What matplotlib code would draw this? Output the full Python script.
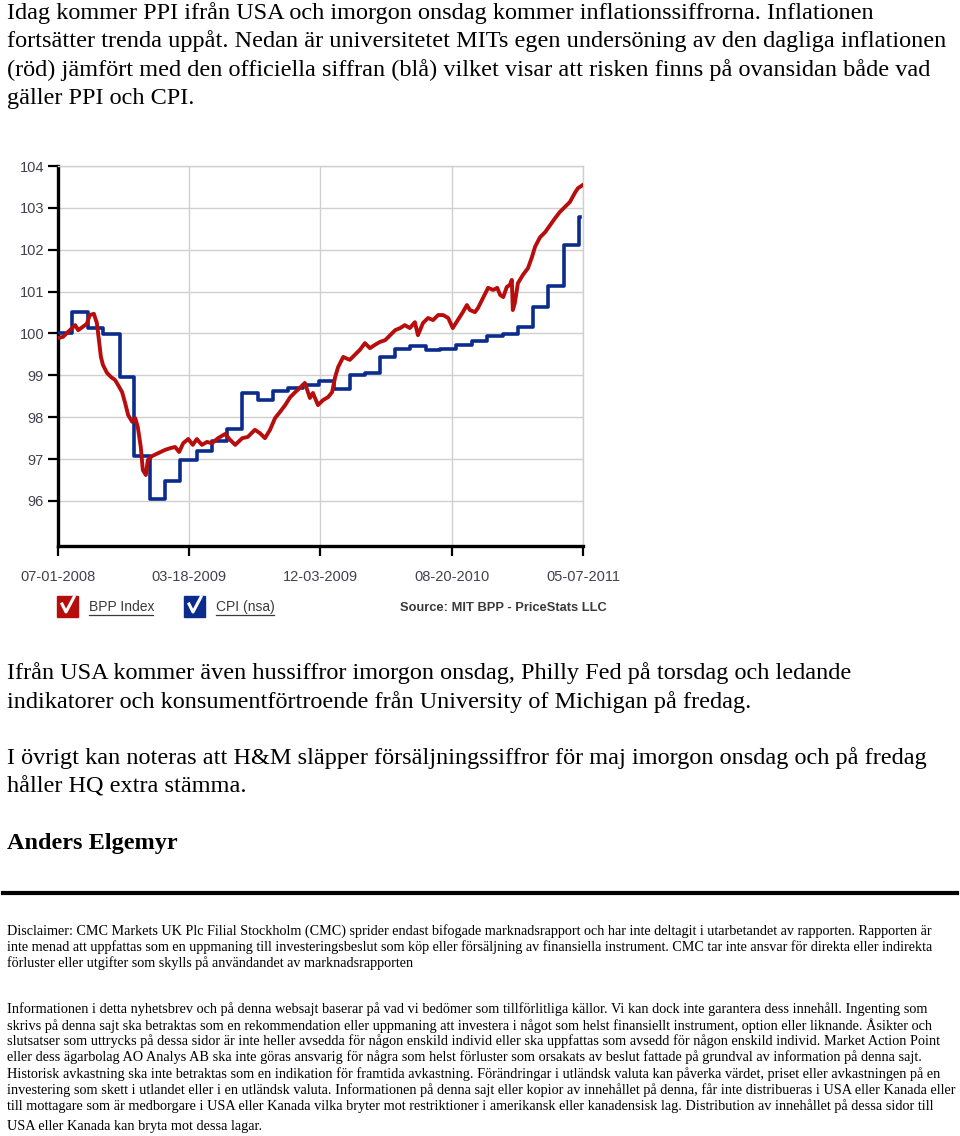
import numpy as np
import matplotlib.pyplot as plt
from matplotlib.patches import Rectangle
from matplotlib.lines import Line2D

# Data
start = np.datetime64('2008-07-01')

# CPI (nsa) - monthly step levels, days after 07-01-2008
cpi_days = [0, 28, 59, 89, 123, 151, 182, 212, 242, 275, 305, 335, 365, 396,
            426, 456, 485, 517, 547, 578, 608, 638, 668, 697, 729, 757, 788,
            820, 850, 882, 911, 941, 971, 1002, 1032, 1034]
cpi_vals = [100.00, 100.51, 100.13, 99.98, 98.96, 97.07, 96.05, 96.48, 96.98,
            97.20, 97.43, 97.72, 98.58, 98.41, 98.63, 98.69, 98.77, 98.87,
            98.67, 99.01, 99.06, 99.44, 99.63, 99.70, 99.61, 99.62, 99.73,
            99.82, 99.94, 99.99, 100.16, 100.63, 101.13, 102.11, 102.78, 102.78]

# BPP Index - daily online price index, sampled
bpp_days = [0, 10, 20, 28, 34, 40, 48, 57, 63, 71, 77, 81, 85, 89, 97, 105,
            113, 119, 127, 133, 139, 147, 153, 158, 164, 168, 174, 178, 186,
            198, 212, 222, 232, 240, 248, 258, 267, 275, 285, 295, 305, 317,
            331, 341, 351, 365, 376, 390, 400, 410, 420, 430, 440, 450, 460,
            470, 479, 489, 499, 505, 515, 525, 535, 543, 549, 555, 565, 578,
            588, 598, 608, 618, 628, 638, 648, 658, 668, 678, 687, 697, 707,
            713, 723, 733, 743, 753, 763, 773, 782, 792, 802, 810, 816, 826,
            832, 842, 852, 862, 870, 876, 882, 889, 895, 899, 901, 905, 911,
            921, 931, 939, 945, 955, 965, 975, 985, 994, 1004, 1014, 1024,
            1030, 1040]
bpp_vals = [99.89, 99.92, 100.04, 100.13, 100.20, 100.08, 100.15, 100.23,
            100.44, 100.47, 100.25, 99.85, 99.44, 99.25, 99.06, 98.96, 98.89,
            98.77, 98.60, 98.34, 98.05, 97.89, 97.98, 97.77, 97.29, 96.74,
            96.62, 96.98, 97.07, 97.14, 97.22, 97.26, 97.29, 97.17, 97.38,
            97.48, 97.34, 97.48, 97.34, 97.41, 97.38, 97.50, 97.60, 97.46,
            97.34, 97.50, 97.53, 97.70, 97.62, 97.50, 97.70, 97.98, 98.13,
            98.29, 98.48, 98.60, 98.70, 98.82, 98.46, 98.58, 98.29, 98.41,
            98.48, 98.60, 98.96, 99.20, 99.44, 99.37, 99.49, 99.61, 99.77,
            99.65, 99.73, 99.80, 99.84, 99.96, 100.08, 100.13, 100.20, 100.13,
            100.27, 99.96, 100.25, 100.37, 100.32, 100.44, 100.44, 100.37,
            100.13, 100.32, 100.51, 100.68, 100.56, 100.51, 100.61, 100.85,
            101.09, 101.04, 101.09, 100.92, 100.87, 101.11, 101.16, 101.28,
            100.56, 100.73, 101.20, 101.40, 101.56, 101.83, 102.07, 102.30,
            102.42, 102.59, 102.76, 102.90, 103.02, 103.14, 103.36, 103.47,
            103.55]

x_ticks = ['07-01-2008', '03-18-2009', '12-03-2009', '08-20-2010', '05-07-2011']
y_ticks = [96, 97, 98, 99, 100, 101, 102, 103, 104]

intro = ["Idag kommer PPI ifrån USA och imorgon onsdag kommer inflationssiffrorna. Inflationen",
         "fortsätter trenda uppåt. Nedan är universitetet MITs egen undersöning av den dagliga inflationen",
         "(röd) jämfört med den officiella siffran (blå) vilket visar att risken finns på ovansidan både vad",
         "gäller PPI och CPI."]
para2 = ["Ifrån USA kommer även hussiffror imorgon onsdag, Philly Fed på torsdag och ledande",
         "indikatorer och konsumentförtroende från University of Michigan på fredag."]
para3 = ["I övrigt kan noteras att H&M släpper försäljningssiffror för maj imorgon onsdag och på fredag",
         "håller HQ extra stämma."]
author = "Anders Elgemyr"
disclaimer = ["Disclaimer: CMC Markets UK Plc Filial Stockholm (CMC) sprider endast bifogade marknadsrapport och har inte deltagit i utarbetandet av rapporten. Rapporten är",
              "inte menad att uppfattas som en uppmaning till investeringsbeslut som köp eller försäljning av finansiella instrument. CMC tar inte ansvar för direkta eller indirekta",
              "förluster eller utgifter som skylls på användandet av marknadsrapporten"]
info = ["Informationen i detta nyhetsbrev och på denna websajt baserar på vad vi bedömer som tillförlitliga källor. Vi kan dock inte garantera dess innehåll. Ingenting som",
        "skrivs på denna sajt ska betraktas som en rekommendation eller uppmaning att investera i något som helst finansiellt instrument, option eller liknande. Åsikter och",
        "slutsatser som uttrycks på dessa sidor är inte heller avsedda för någon enskild individ eller ska uppfattas som avsedd för någon enskild individ. Market Action Point",
        "eller dess ägarbolag AO Analys AB ska inte göras ansvarig för några som helst förluster som orsakats av beslut fattade på grundval av information på denna sajt.",
        "Historisk avkastning ska inte betraktas som en indikation för framtida avkastning. Förändringar i utländsk valuta kan påverka värdet, priset eller avkastningen på en",
        "investering som skett i utlandet eller i en utländsk valuta. Informationen på denna sajt eller kopior av innehållet på denna, får inte distribueras i USA eller Kanada eller",
        "till mottagare som är medborgare i USA eller Kanada vilka bryter mot restriktioner i amerikansk eller kanadensisk lag. Distribution av innehållet på dessa sidor till",
        "USA eller Kanada kan bryta mot dessa lagar."]

RED = '#b80d0d'
BLUE = '#0b2c8c'
W, H = 960, 1136

fig = plt.figure(figsize=(W / 100, H / 100), dpi=100)


def fx(px):
    return px / W


def fy(py):
    return 1 - py / H


def line_text(x, y, s, size, **kw):
    fig.text(fx(x), fy(y), s, fontsize=size, va='center', ha='left', **kw)


serif = 'Liberation Serif'
sans = 'Liberation Sans'

# page text
for i, s in enumerate(intro):
    line_text(7, 13 + i * 28.5, s, 17.5, family=serif)
for i, s in enumerate(para2):
    line_text(7, 673 + i * 29, s, 17.5, family=serif)
for i, s in enumerate(para3):
    line_text(7, 758 + i * 29, s, 17.5, family=serif)
line_text(7, 843, author, 17.5, family=serif, weight='bold')
fig.add_artist(Line2D([fx(3), fx(957)], [fy(893), fy(893)], color='black',
                      lw=3, transform=fig.transFigure))
for i, s in enumerate(disclaimer):
    line_text(7, 931 + i * 16.3, s, 10.15, family=serif)
for i, s in enumerate(info):
    line_text(7, 1009 + i * 16.2 + (4 if i == len(info) - 1 else 0), s, 10.25,
              family=serif)

# chart
ax = fig.add_axes([fx(58), fy(546), fx(583) - fx(58), (546 - 166) / H])
bpp_dates = start + np.array(bpp_days).astype('timedelta64[D]')
cpi_dates = start + np.array(cpi_days).astype('timedelta64[D]')
ax.plot(cpi_dates, cpi_vals, color=BLUE, lw=2.6, drawstyle='steps-post', zorder=3)
ax.plot(bpp_dates, bpp_vals, color=RED, lw=2.8, zorder=4)

tick_dates = [np.datetime64(f'{s[6:]}-{s[:2]}-{s[3:5]}') for s in x_ticks]
ax.set_xlim(tick_dates[0], tick_dates[-1])
ax.set_ylim(94.925, 104)
ax.set_xticks(tick_dates)
ax.set_xticklabels(x_ticks)
ax.set_yticks(y_ticks)
ax.grid(True, color='#d0d0d0', lw=1)
ax.set_axisbelow(True)
for side in ['top', 'right']:
    ax.spines[side].set_color('#d0d0d0')
    ax.spines[side].set_linewidth(1)
for side in ['left', 'bottom']:
    ax.spines[side].set_color('black')
    ax.spines[side].set_linewidth(2.4)
ax.tick_params(axis='both', colors='black', width=1.6, labelcolor='#45404f',
               labelsize=10.5)
ax.tick_params(axis='y', length=7, pad=3)
ax.tick_params(axis='x', length=7, pad=10)
for lab in ax.get_xticklabels() + ax.get_yticklabels():
    lab.set_family(sans)

# legend boxes with check marks
for x0, col, label, x_lab, w_lab in [(57, RED, 'BPP Index', 89, 64),
                                     (184, BLUE, 'CPI (nsa)', 216, 58)]:
    fig.add_artist(Rectangle((fx(x0), fy(617)), fx(21), 21 / H, facecolor=col,
                             edgecolor=col, transform=fig.transFigure))
    fig.add_artist(Line2D([fx(x0 + 5), fx(x0 + 9), fx(x0 + 17)],
                          [fy(604), fy(612), fy(597)], color='white', lw=2.2,
                          transform=fig.transFigure))
    line_text(x_lab, 607, label, 10, family=sans, color='#3a3a3a')
    fig.add_artist(Line2D([fx(x_lab), fx(x_lab + w_lab)], [fy(615), fy(615)],
                          color='#3a3a3a', lw=0.9, transform=fig.transFigure))
line_text(400, 608, 'Source: MIT BPP - PriceStats LLC', 9.3, family=sans,
          weight='bold', color='#3a3a3a')

fig.savefig('out.png', dpi=100)
